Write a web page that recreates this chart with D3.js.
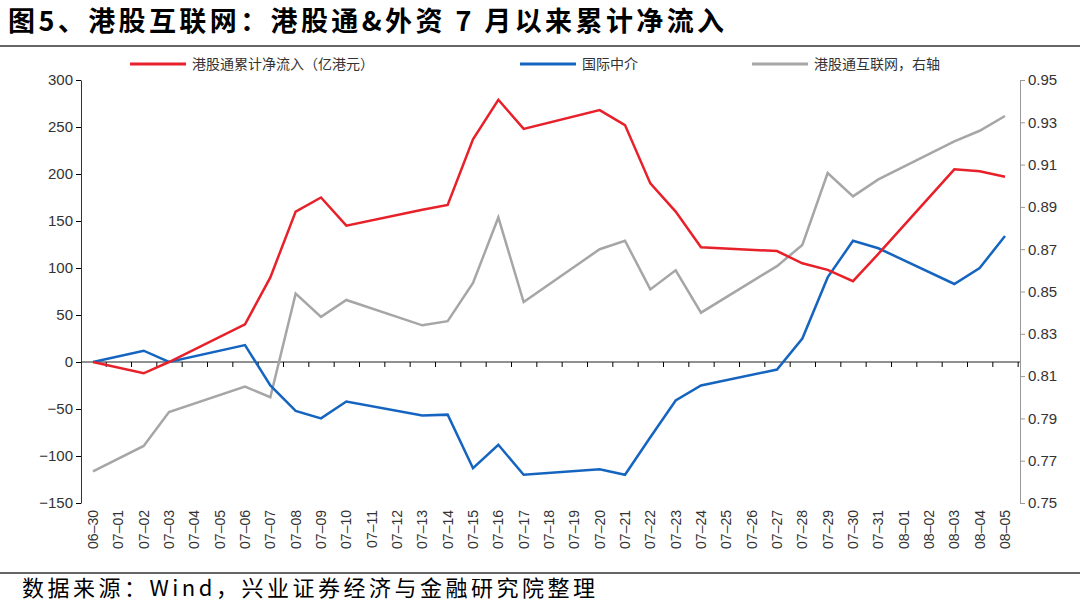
<!DOCTYPE html>
<html><head><meta charset="utf-8">
<script src="https://cdn.jsdelivr.net/npm/d3@7"></script>
<style>body{margin:0;background:#fff;font-family:"Liberation Sans","Noto Sans CJK SC",sans-serif}</style>
</head><body><svg id="c" width="1080" height="604"></svg>
<script>
// all calendar days on the axis
const allDates = d3.range(0, 37).map(i => {
  const d = new Date(2020, 5, 30 + i);
  return d3.timeFormat("%m-%d")(d);
});
const tradeDates = ["06-30","07-02","07-03","07-06","07-07","07-08","07-09","07-10","07-13","07-14","07-15","07-16","07-17","07-20","07-21","07-22","07-23","07-24","07-27","07-28","07-29","07-30","07-31","08-03","08-04","08-05"];
const southbound = [0,-12,0,40,90,160,175,145,162,167,237,279,248,268,252,190,160,122,118,105,98,86,115,205,203,197];
const foreign = [0,12,0,18,-25,-52,-60,-42,-57,-56,-113,-88,-120,-114,-120,-80,-41,-25,-8,25,90,129,121,83,100,134];
const index = [0.765,0.777,0.793,0.805,0.800,0.849,0.838,0.846,0.834,0.836,0.854,0.885,0.845,0.870,0.874,0.851,0.860,0.840,0.862,0.872,0.906,0.895,0.903,0.921,0.926,0.933];
const leftTicks = [-150,-100,-50,0,50,100,150,200,250,300];
const rightTicks = [0.75,0.77,0.79,0.81,0.83,0.85,0.87,0.89,0.91,0.93,0.95];

const svg = d3.select("#c");
const x = d3.scalePoint().domain(allDates).range([93, 1005]);
const y = d3.scaleLinear().domain([-150, 300]).range([503, 80]);
const y2 = d3.scaleLinear().domain([0.75, 0.95]).range([503, 80]);

// title
svg.append("text").attr("x", 8).attr("y", 31).attr("font-size", 27).attr("font-weight", "bold")
  .attr("letter-spacing", 3.4)
  .attr("font-family", "'Noto Sans CJK SC',sans-serif").text("图5、港股互联网：港股通&外资 7 月以来累计净流入");
svg.append("line").attr("x1", 0).attr("x2", 1080).attr("y1", 46).attr("y2", 46).attr("stroke", "#333").attr("stroke-width", 1.5);
svg.append("line").attr("x1", 0).attr("x2", 1080).attr("y1", 573).attr("y2", 573).attr("stroke", "#333").attr("stroke-width", 1.5);
svg.append("text").attr("x", 22).attr("y", 596).attr("font-size", 22).attr("letter-spacing", 3.5)
  .attr("font-family", "'Noto Sans CJK SC',sans-serif").text("数据来源：Wind，兴业证券经济与金融研究院整理");

// axes
const ax = svg.append("g").attr("transform", "translate(81,0)")
  .call(d3.axisLeft(y).tickValues(leftTicks).tickSize(5).tickSizeOuter(0));
ax.selectAll("text").attr("font-size", 15).attr("fill", "#333");
ax.select(".domain").attr("stroke", "#333");

const ax2 = svg.append("g").attr("transform", "translate(1020,0)")
  .call(d3.axisRight(y2).tickValues(rightTicks).tickFormat(d3.format(".2f")).tickSize(5).tickSizeOuter(0));
ax2.selectAll("text").attr("font-size", 15).attr("fill", "#333");
ax2.selectAll("line,.domain").attr("stroke", "#999");

const axb = svg.append("g").attr("transform", `translate(0,${y(0)})`)
  .call(d3.axisBottom(x).tickSize(5).tickSizeOuter(0).tickFormat(""));
axb.select(".domain").attr("d", `M81,0H1020`).attr("stroke", "#222");
axb.selectAll(".tick line").attr("transform", `translate(${x.step() / 2},0)`);

svg.append("g").selectAll("text").data(allDates).join("text")
  .attr("transform", d => `translate(${x(d) + 5},510) rotate(-90)`)
  .attr("text-anchor", "end").attr("font-size", 14).attr("fill", "#333")
  .text(d => d.replace("-", "–"));

// lines
const mk = (vals, sc) => d3.line().x((d, i) => x(tradeDates[i])).y(d => sc(d))(vals);
svg.append("path").attr("d", mk(index, y2)).attr("fill", "none").attr("stroke", "#a6a6a6").attr("stroke-width", 2.5);
svg.append("path").attr("d", mk(foreign, y)).attr("fill", "none").attr("stroke", "#1565c0").attr("stroke-width", 2.5);
svg.append("path").attr("d", mk(southbound, y)).attr("fill", "none").attr("stroke", "#e8202a").attr("stroke-width", 2.5);

// legend
const legend = [
  {label: "港股通累计净流入（亿港元）", color: "#e8202a", x: 130},
  {label: "国际中介", color: "#1565c0", x: 520},
  {label: "港股通互联网，右轴", color: "#a6a6a6", x: 752}
];
const lg = svg.append("g").selectAll("g").data(legend).join("g").attr("transform", d => `translate(${d.x},64)`);
lg.append("line").attr("x1", 0).attr("x2", 56).attr("stroke", d => d.color).attr("stroke-width", 3);
lg.append("text").attr("x", 62).attr("y", 5).attr("font-size", 14).attr("fill", "#333")
  .attr("font-family", "'Noto Sans CJK SC',sans-serif").text(d => d.label);
</script></body></html>
